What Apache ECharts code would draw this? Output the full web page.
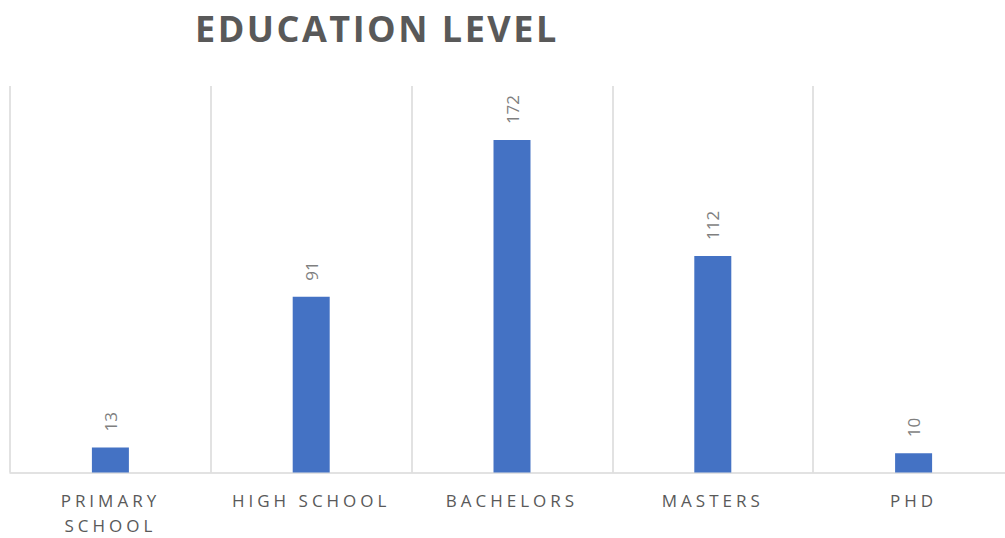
<!DOCTYPE html>
<html>
<head>
<meta charset="utf-8">
<script src="https://cdn.jsdelivr.net/npm/echarts@6/dist/echarts.min.js"></script>
<style>
  html, body { margin: 0; padding: 0; background: #ffffff; }
  #chart { width: 1005px; height: 538px; }
</style>
</head>
<body>
<div id="chart"></div>
<script>
// Chart data
const titleText = 'EDUCATION LEVEL';
const categories = ['PRIMARY\nSCHOOL', 'HIGH SCHOOL', 'BACHELORS', 'MASTERS', 'PHD'];
const counts = [13, 91, 172, 112, 10];
const valueMax = 200;

const FONT = '"Open Sans", "Noto Sans", sans-serif';

const chart = echarts.init(document.getElementById('chart'), null, { renderer: 'svg' });

chart.setOption({
  animation: false,
  backgroundColor: '#ffffff',
  title: {
    text: titleText,
    left: 190,
    top: 5,
    textStyle: {
      fontFamily: FONT,
      fontSize: 36,
      fontWeight: 'bold',
      color: '#595959'
    }
  },
  grid: {
    left: 10,
    top: 86,
    width: 1004,
    height: 386.5,
    containLabel: false,
    outerBoundsMode: 'none'
  },
  xAxis: {
    type: 'category',
    data: categories,
    boundaryGap: true,
    axisTick: { show: false },
    axisLine: { show: true, lineStyle: { color: '#d9d9d9', width: 1.5 } },
    splitLine: { show: true, lineStyle: { color: '#d9d9d9', width: 1.5 } },
    axisLabel: {
      interval: 0,
      margin: 15,
      fontFamily: FONT,
      fontSize: 17,
      color: '#595959',
      lineHeight: 25
    }
  },
  yAxis: {
    type: 'value',
    min: 0,
    max: valueMax,
    show: false,
    splitLine: { show: false }
  },
  series: [{
    type: 'bar',
    data: counts,
    barWidth: 37,
    itemStyle: { color: '#4472c4' },
    label: {
      show: true,
      position: 'top',
      rotate: 90,
      align: 'left',
      verticalAlign: 'middle',
      distance: 16,
      fontFamily: FONT,
      fontSize: 17,
      color: '#7f7f7f'
    }
  }]
});

// Spaced-out lettering for the title and the category labels
const labelLines = new Set();
categories.forEach(c => c.split('\n').forEach(l => labelLines.add(l)));
function applyLetterSpacing() {
  document.querySelectorAll('#chart svg text').forEach(t => {
    const s = t.textContent;
    if (s === titleText) t.setAttribute('letter-spacing', '2.5px');
    else if (labelLines.has(s)) t.setAttribute('letter-spacing', '4px');
  });
}
chart.on('finished', applyLetterSpacing);
applyLetterSpacing();
</script>
</body>
</html>
